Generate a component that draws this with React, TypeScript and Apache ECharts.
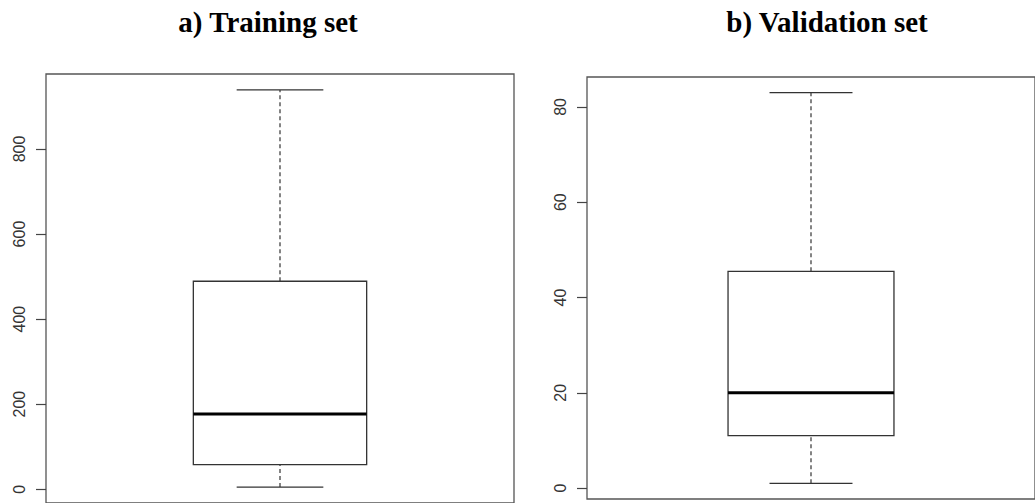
import React, { useEffect, useRef } from "react";
import * as echarts from "echarts";

// Five-number summaries: [min, Q1, median, Q3, max]
const trainingStats = [5, 58, 177, 489, 939];
const validationStats = [1, 11, 20, 45.5, 83];
const trainingTicks = [0, 200, 400, 600, 800];
const validationTicks = [0, 20, 40, 60, 80];
const titles = ["a) Training set", "b) Validation set"];

const padded = (s: number[]) => {
  const r = s[4] - s[0];
  return { min: s[0] - 0.04 * r, max: s[4] + 0.04 * r };
};

const LINE = "#333";

function renderBox(params: any, api: any) {
  const x = api.value(0);
  const mn = api.value(1), q1 = api.value(2), md = api.value(3), q3 = api.value(4), mx = api.value(5);
  const c = (xx: number, yy: number) => api.coord([xx, yy]);
  const hb = 0.2, hc = 0.1;
  const tl = c(x - hb, q3), br = c(x + hb, q1);
  const dashStyle = { stroke: LINE, lineWidth: 1.2, lineDash: [4, 3], fill: null };
  const solid = { stroke: LINE, lineWidth: 1.3, fill: null };
  const seg = (a: number[], b: number[], style: any) => ({
    type: "line",
    shape: { x1: a[0], y1: a[1], x2: b[0], y2: b[1] },
    style,
  });
  return {
    type: "group",
    children: [
      seg(c(x, q3), c(x, mx), dashStyle),
      seg(c(x, mn), c(x, q1), dashStyle),
      seg(c(x - hc, mx), c(x + hc, mx), solid),
      seg(c(x - hc, mn), c(x + hc, mn), solid),
      {
        type: "rect",
        shape: { x: tl[0], y: tl[1], width: br[0] - tl[0], height: br[1] - tl[1] },
        style: { stroke: LINE, lineWidth: 1.3, fill: "#fff" },
      },
      seg(c(x - hb, md), c(x + hb, md), { stroke: "#000", lineWidth: 3, fill: null }),
    ],
  };
}

export default function App() {
  const ref = useRef<HTMLDivElement>(null);
  useEffect(() => {
    if (!ref.current) return;
    const chart = echarts.init(ref.current, null, { renderer: "svg" });
    const tp = padded(trainingStats);
    const vp = padded(validationStats);
    const yAxisCommon = (ticks: number[]) => ({
      type: "value",
      axisLine: { show: false },
      splitLine: { show: false },
      axisTick: {
        show: true,
        inside: false,
        length: 10,
        customValues: ticks,
        lineStyle: { color: "#444", width: 1.2 },
      },
      axisLabel: {
        show: true,
        customValues: ticks,
        rotate: 90,
        margin: 19,
        color: "#333",
        fontSize: 16,
        fontFamily: "Liberation Sans, Arial, sans-serif",
      },
    });
    const titleFont = 'bold 29px "Liberation Serif", "Times New Roman", serif';
    chart.setOption({
      animation: false,
      backgroundColor: "#fff",
      grid: [
        { left: 46, top: 74, width: 468, height: 430.5, show: true, borderColor: "#555", borderWidth: 1.3, containLabel: false },
        { left: 587, top: 77, width: 460, height: 422, show: true, borderColor: "#555", borderWidth: 1.3, containLabel: false },
      ],
      xAxis: [
        { type: "value", gridIndex: 0, min: 0.46, max: 1.54, show: false },
        { type: "value", gridIndex: 1, min: 0.46, max: 1.54, show: false },
      ],
      yAxis: [
        { ...yAxisCommon(trainingTicks), gridIndex: 0, min: tp.min, max: tp.max },
        { ...yAxisCommon(validationTicks), gridIndex: 1, min: vp.min, max: vp.max },
      ],
      graphic: [
        {
          type: "text",
          x: 268,
          y: 22,
          style: {
            text: titles[0],
            font: titleFont,
            fill: "#000",
            textAlign: "center",
            textVerticalAlign: "middle",
          },
        },
        {
          type: "text",
          x: 827,
          y: 22,
          style: {
            text: titles[1],
            font: titleFont,
            fill: "#000",
            textAlign: "center",
            textVerticalAlign: "middle",
          },
        },
      ],
      series: [
        {
          type: "custom",
          xAxisIndex: 0,
          yAxisIndex: 0,
          renderItem: renderBox,
          encode: { x: 0, y: [1, 2, 3, 4, 5] },
          data: [[1, ...trainingStats]],
          clip: false,
        },
        {
          type: "custom",
          xAxisIndex: 1,
          yAxisIndex: 1,
          renderItem: renderBox,
          encode: { x: 0, y: [1, 2, 3, 4, 5] },
          data: [[1, ...validationStats]],
          clip: false,
        },
      ],
    });
    return () => chart.dispose();
  }, []);
  return (
    <div
      ref={ref}
      style={{ position: "absolute", left: 0, top: 0, width: 1035, height: 503, overflow: "hidden" }}
    />
  );
}
